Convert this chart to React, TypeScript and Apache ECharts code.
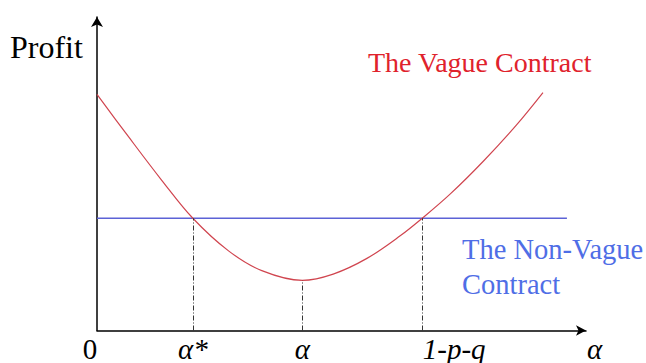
import React, { useEffect, useRef } from "react";
import * as echarts from "echarts";

// Red curve: "The Vague Contract"
const curveX = [0, 6.4, 13.2, 19.6, 26.9, 33.7, 42, 48.3, 55.2, 62, 66.5, 72.2, 79, 85.8, 91.2];
const curveY = [75.3, 61.9, 48.0, 35.8, 25.4, 19.1, 16.0, 18.0, 23.0, 30.2, 35.8, 43.5, 54.0, 65.6, 75.9];

// Blue flat line: "The Non-Vague Contract"
const flatX = [0, 96.1];
const flatLevel = 35.8;

// Dashed guides: [x, top]
const guideX = [19.6, 42, 66.5];
const guideTop = [35.8, 16.0, 35.8];

// x tick labels
const tickValues = [0, 19.6, 42, 66.5];
const tickLabels = ["0", "α*", "α", "1-p-q"];
const xAxisName = "α";
const yAxisName = "Profit";
const curveName = "The Vague Contract";
const flatName = ["The Non-Vague", "Contract"];

const SERIF = '"Liberation Serif", "Times New Roman", serif';

export default function App() {
  const ref = useRef<HTMLDivElement>(null);
  useEffect(() => {
    if (!ref.current) return;
    const chart = echarts.init(ref.current, undefined, { renderer: "svg" });
    const option: any = {
      animation: false,
      backgroundColor: "#ffffff",
      grid: { left: 97, right: 60, top: 17, bottom: 30 },
      xAxis: {
        type: "value",
        min: 0,
        max: 100,
        name: xAxisName,
        nameLocation: "end",
        nameGap: 1,
        nameTextStyle: {
          fontFamily: SERIF,
          fontStyle: "italic",
          fontSize: 29,
          lineHeight: 28,
          color: "#000",
          verticalAlign: "top",
          align: "left",
          padding: [4, 0, 0, 0],
        },
        axisLine: {
          show: true,
          symbol: ["none", "arrow"],
          symbolSize: [8, 10],
          lineStyle: { color: "#000", width: 1.5 },
        },
        axisTick: { show: false },
        splitLine: { show: false },
        axisLabel: {
          customValues: tickValues,
          margin: 4,
          formatter: (v: number) => {
            const i = tickValues.findIndex((t) => Math.abs(t - v) < 0.01);
            if (i < 0) return "";
            const s = tickLabels[i];
            if (i === 0) return "{n|" + s + "}";
            if (i === 3) return "{r|" + s + "}";
            return "{i|" + s + "}";
          },
          rich: {
            n: { fontFamily: SERIF, fontSize: 29, lineHeight: 28, color: "#000", padding: [0, 14, 0, 0] },
            i: { fontFamily: SERIF, fontStyle: "italic", fontSize: 29, lineHeight: 28, color: "#000" },
            r: { fontFamily: SERIF, fontStyle: "italic", fontSize: 29, lineHeight: 28, color: "#000", padding: [0, 0, 0, 64] },
          },
        },
      },
      yAxis: {
        type: "value",
        min: 0,
        max: 100,
        axisLine: {
          show: true,
          symbol: ["none", "arrow"],
          symbolSize: [9, 10],
          lineStyle: { color: "#000", width: 1.5 },
        },
        axisTick: { show: false },
        axisLabel: { show: false },
        splitLine: { show: false },
      },
      series: [
        {
          type: "line",
          name: flatName.join(" "),
          data: flatX.map((x) => [x, flatLevel]),
          symbol: "none",
          lineStyle: { color: "#5c62d6", width: 1.5 },
          z: 2,
          markLine: {
            silent: true,
            symbol: "none",
            label: { show: false },
            lineStyle: { color: "#333", width: 1, type: [5, 2, 1, 2] },
            data: guideX.map((x, i) => [{ coord: [x, 0] }, { coord: [x, guideTop[i]] }]),
          },
        },
        {
          type: "line",
          name: curveName,
          data: curveX.map((x, i) => [x, curveY[i]]),
          symbol: "none",
          smooth: 0.35,
          lineStyle: { color: "#d0454f", width: 1.2 },
          z: 3,
        },
      ],
      graphic: [
        {
          type: "text",
          left: 10,
          top: 31,
          style: { text: yAxisName, font: "32px " + SERIF, fill: "#000" },
        },
        {
          type: "text",
          left: 368,
          top: 48,
          style: { text: curveName, font: "28px " + SERIF, fill: "#e0222c" },
        },
        {
          type: "text",
          left: 462,
          top: 232,
          style: { text: flatName.join("\n"), font: "28.5px " + SERIF, fill: "#4f6ee6", lineHeight: 35 },
        },
      ],
    };
    chart.setOption(option);
    return () => chart.dispose();
  }, []);
  return (
    <div
      ref={ref}
      style={{ position: "fixed", left: 0, top: 0, width: 646, height: 363, background: "#fff" }}
    />
  );
}
